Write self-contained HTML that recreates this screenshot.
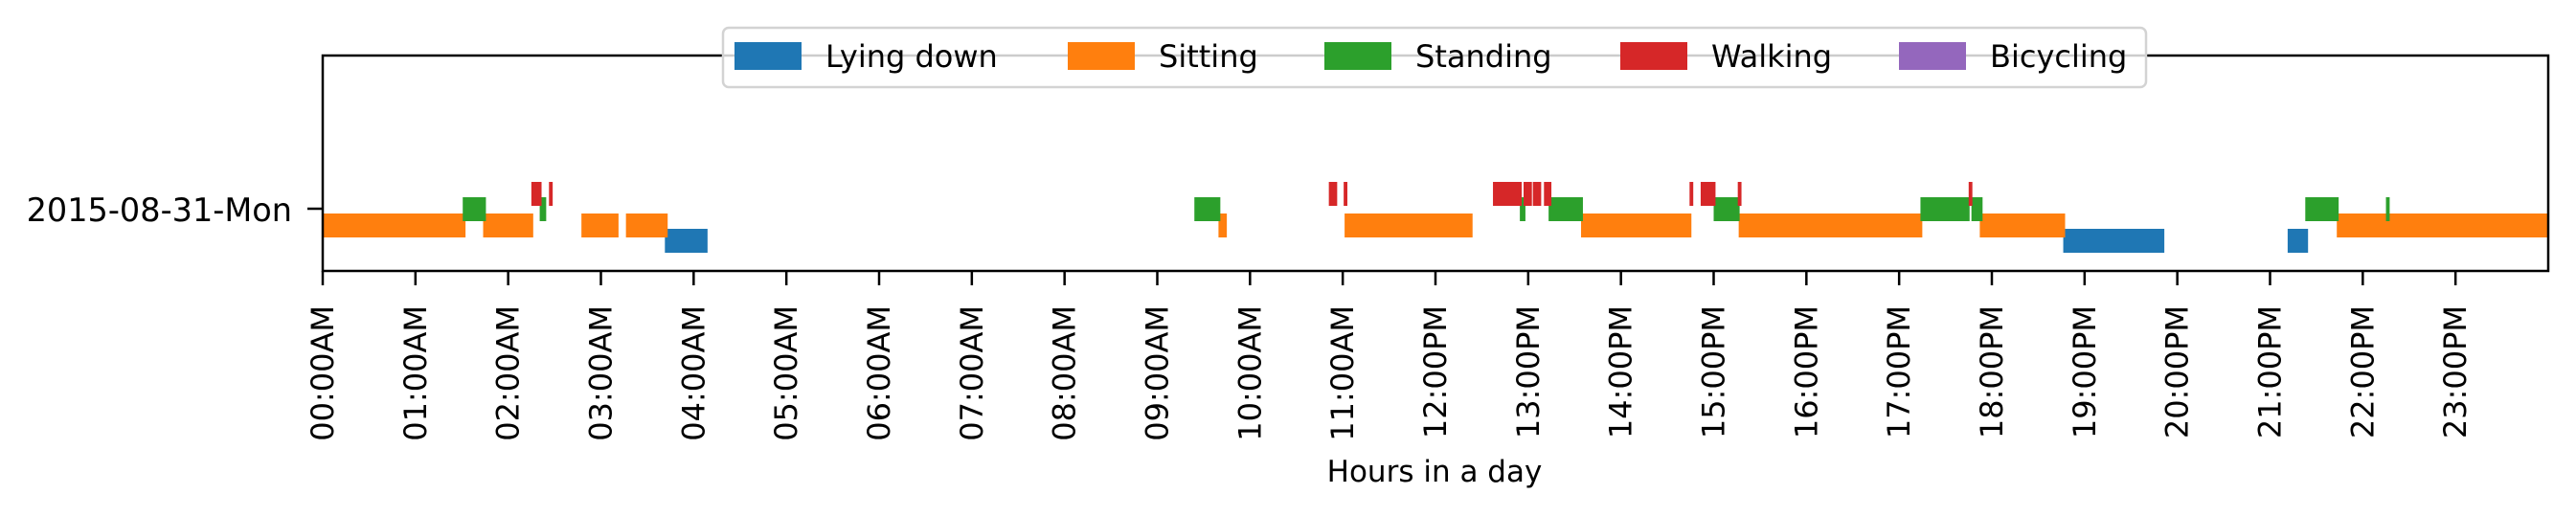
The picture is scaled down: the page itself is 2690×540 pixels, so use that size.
<!DOCTYPE html>
<html>
<head>
<meta charset="utf-8">
<style>
html,body{margin:0;padding:0;background:#fff;}
svg{display:block;font-family:"DejaVu Sans","Liberation Sans",sans-serif;}
</style>
</head>
<body>
<svg id="chart" width="2690" height="540" viewBox="0 0 2690 540" xmlns="http://www.w3.org/2000/svg">
  <rect x="0" y="0" width="2690" height="540" fill="#fff"/>
  <g id="bars"></g>
  <g id="xticks"></g>
  <rect x="337" y="58" width="2324" height="225" fill="none" stroke="#000" stroke-width="2.5"/>
  <line x1="321" y1="218" x2="337" y2="218" stroke="#000" stroke-width="2.5"/>
  <text x="305" y="231" font-size="33.5" text-anchor="end" fill="#000">2015-08-31-Mon</text>
  <text x="1498" y="503" font-size="31" text-anchor="middle" fill="#000">Hours in a day</text>
  <g id="legend">
    <rect x="755" y="29" width="1486" height="62" rx="6" ry="6" fill="rgba(255,255,255,0.8)" stroke="#d3d3d3" stroke-width="2.5"/>
  </g>
</svg>
<script>
const categories = ["Lying down","Sitting","Standing","Walking","Bicycling"];
const colors = ["#1f77b4","#ff7f0e","#2ca02c","#d62728","#9467bd"];
const lyingDown = [[3.69,4.15],[18.77,19.86],[21.19,21.41]];
const sitting = [[0,1.54],[1.73,2.27],[2.79,3.19],[3.27,3.72],[9.66,9.75],[11.02,12.40],[13.57,14.76],[15.27,17.25],[17.87,18.79],[21.72,24]];
const standing = [[1.51,1.76],[2.34,2.41],[9.40,9.68],[12.91,12.97],[13.22,13.59],[15.00,15.28],[17.23,17.76],[17.78,17.90],[21.38,21.74],[22.25,22.29]];
const walking = [[2.25,2.36],[2.44,2.48],[10.85,10.94],[11.01,11.05],[12.62,12.93],[12.95,13.04],[13.05,13.14],[13.17,13.25],[14.74,14.78],[14.86,15.02],[15.26,15.30],[17.75,17.79]];
const bicycling = [];
const tickLabels = ["00:00AM","01:00AM","02:00AM","03:00AM","04:00AM","05:00AM","06:00AM","07:00AM","08:00AM","09:00AM","10:00AM","11:00AM","12:00PM","13:00PM","14:00PM","15:00PM","16:00PM","17:00PM","18:00PM","19:00PM","20:00PM","21:00PM","22:00PM","23:00PM"];

const NS = "http://www.w3.org/2000/svg";
const X0 = 337, X1 = 2661;
function xScale(h){ return X0 + (X1 - X0) * h / 24; }
const levelCenters = [251.5, 235.5, 218.5, 202.5, 186];
const barH = 25;
const series = [lyingDown, sitting, standing, walking, bicycling];

const barsG = document.getElementById('bars');
series.forEach(function(data, ci){
  data.forEach(function(iv, i){
    const r = document.createElementNS(NS, 'rect');
    const xa = xScale(iv[0]), xb = xScale(iv[1]);
    r.setAttribute('x', xa);
    r.setAttribute('y', levelCenters[ci] - barH/2);
    r.setAttribute('width', Math.max(1, xb - xa));
    r.setAttribute('height', barH);
    r.setAttribute('fill', colors[ci]);
    
    
    barsG.appendChild(r);
  });
});

const tg = document.getElementById('xticks');
tickLabels.forEach(function(lab, i){
  const x = xScale(i);
  const l = document.createElementNS(NS, 'line');
  l.setAttribute('x1', x); l.setAttribute('x2', x);
  l.setAttribute('y1', 283); l.setAttribute('y2', 298);
  l.setAttribute('stroke', '#000'); l.setAttribute('stroke-width', 2.5);
  
  
  tg.appendChild(l);
  const t = document.createElementNS(NS, 'text');
  t.setAttribute('x', 0); t.setAttribute('y', 0);
  t.setAttribute('font-size', 32);
  t.setAttribute('text-anchor', 'end');
  t.setAttribute('transform', 'translate(' + (x + 11) + ',319) rotate(-90)');
  t.textContent = lab;
  
  
  tg.appendChild(t);
});

const lg = document.getElementById('legend');
const handleX = [767, 1115, 1383, 1692, 1983];
categories.forEach(function(c, i){
  const r = document.createElementNS(NS, 'rect');
  r.setAttribute('x', handleX[i]); r.setAttribute('y', 44);
  r.setAttribute('width', 70); r.setAttribute('height', 29);
  r.setAttribute('fill', colors[i]);
  
  
  lg.appendChild(r);
  const t = document.createElementNS(NS, 'text');
  t.setAttribute('x', handleX[i] + 95); t.setAttribute('y', 70);
  t.setAttribute('font-size', 32);
  t.textContent = c;
  
  
  lg.appendChild(t);
});
</script>
</body>
</html>
